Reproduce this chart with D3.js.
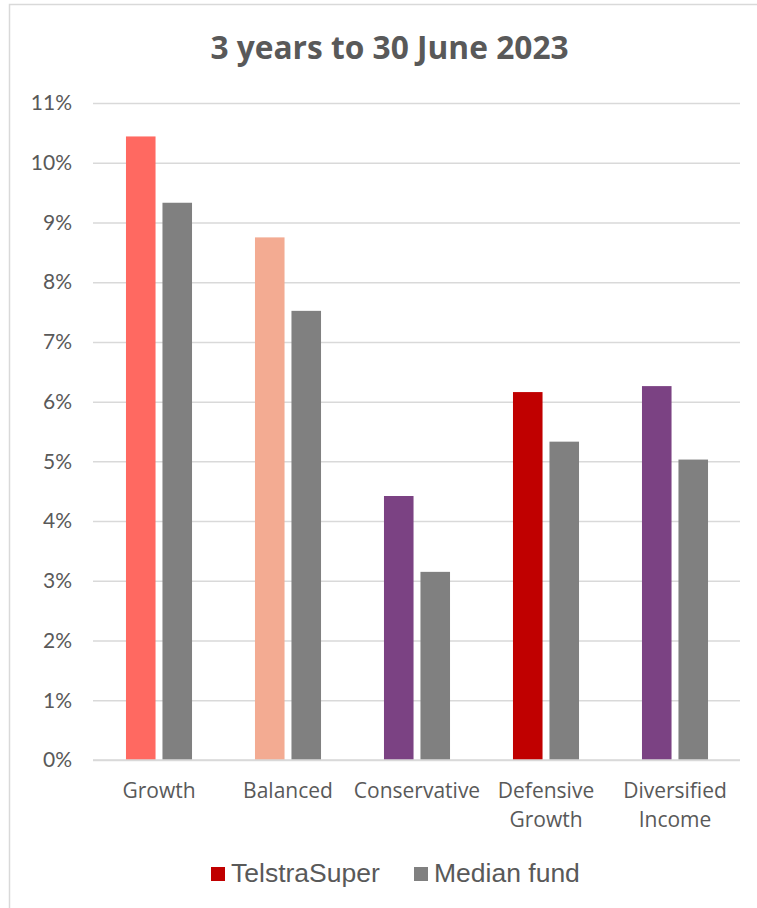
<!DOCTYPE html>
<html><head><meta charset="utf-8">
<script src="https://cdn.jsdelivr.net/npm/d3@7"></script>
<style>body{margin:0;background:#fff}svg{display:block}</style>
</head><body><svg id="c" width="757" height="908"></svg>
<script>
const categories = [["Growth"],["Balanced"],["Conservative"],["Defensive","Growth"],["Diversified","Income"]];
const seriesNames = ["TelstraSuper","Median fund"];
const telstraValues = [10.44, 8.75, 4.42, 6.16, 6.26];
const medianValues = [9.33, 7.52, 3.15, 5.33, 5.03];
const telstraColors = ["#FF6961","#F3AB92","#7B4283","#C00000","#7B4283"];
const medianColor = "#808080";
const yTicks = [0,1,2,3,4,5,6,7,8,9,10,11];
const title = "3 years to 30 June 2023";

(function(){
const svg = d3.select("#c");
svg.append("rect").attr("x",9.5).attr("y",4.5).attr("width",800).attr("height",1000)
  .attr("fill","#fff").attr("stroke","#d9d9d9").attr("stroke-width",1.5);

const pl=93, pr=740, pt=103, pb=760;
const keys = categories.map((c,i)=>i);
const x0 = d3.scaleBand().domain(keys).range([94.5,739.5]).paddingInner(0.488).paddingOuter(0.244);
const x1 = d3.scaleBand().domain(seriesNames).range([0,x0.bandwidth()]).paddingInner(0.19);
const y = d3.scaleLinear().domain([0,11]).range([pb,pt]);

svg.append("text").attr("x",389.5).attr("y",59).attr("text-anchor","middle")
  .attr("font-family","'Open Sans', Lato, sans-serif").attr("font-weight","bold")
  .attr("font-size",31.7).attr("fill","#595959").text(title);

const yAxis = d3.axisLeft(y).tickValues(yTicks).tickFormat(d=>d+"%").tickSize(-(pr-pl)).tickPadding(21);
const ga = svg.append("g").attr("transform",`translate(${pl},0)`).call(yAxis);
ga.select(".domain").remove();
ga.selectAll(".tick line").attr("stroke","#d9d9d9").attr("stroke-width",1.5);
ga.selectAll(".tick text").attr("font-family","Lato, sans-serif").attr("font-size",21).attr("fill","#595959");

const g = svg.append("g");
keys.forEach(i=>{
  g.append("rect").attr("x",x0(i)+x1("TelstraSuper")).attr("y",y(telstraValues[i]))
   .attr("width",x1.bandwidth()).attr("height",y(0)-y(telstraValues[i])).attr("fill",telstraColors[i]);
  g.append("rect").attr("x",x0(i)+x1("Median fund")).attr("y",y(medianValues[i]))
   .attr("width",x1.bandwidth()).attr("height",y(0)-y(medianValues[i])).attr("fill",medianColor);
});
svg.append("line").attr("x1",pl).attr("x2",pr).attr("y1",y(0)).attr("y2",y(0)).attr("stroke","#d9d9d9").attr("stroke-width",1.5);

const xa = svg.append("g");
keys.forEach(i=>{
  const cx = x0(i)+x0.bandwidth()/2;
  const t = xa.append("text").attr("x",cx).attr("y",798).attr("text-anchor","middle")
    .attr("font-family","'Open Sans', sans-serif").attr("font-size",21).attr("fill","#595959");
  categories[i].forEach((line,j)=>t.append("tspan").attr("x",cx).attr("dy",j?29:0).text(line));
});

const leg = svg.append("g");
const legItems = [{n:seriesNames[0],c:"#C00000",x:211},{n:seriesNames[1],c:medianColor,x:414}];
legItems.forEach(d=>{
  leg.append("rect").attr("x",d.x).attr("y",867).attr("width",14).attr("height",14).attr("fill",d.c);
  leg.append("text").attr("x",d.x+20).attr("y",881.5).attr("font-family","'Liberation Sans', Arial, sans-serif")
   .attr("font-size",26.5).attr("fill","#595959").text(d.n);
});
})();
</script></body></html>
